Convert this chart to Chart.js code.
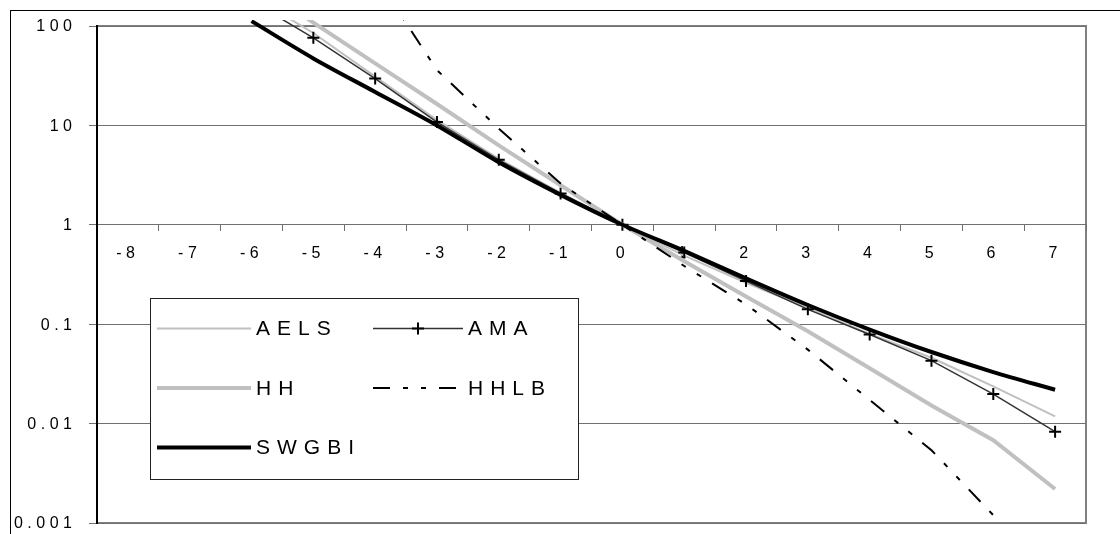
<!DOCTYPE html>
<html>
<head>
<meta charset="utf-8">
<script src="https://cdn.jsdelivr.net/npm/chart.js@4.4.1/dist/chart.umd.min.js"></script>
<style>
  html, body { margin: 0; padding: 0; background: #fff; }
  #wrap { width: 1120px; height: 534px; }
</style>
</head>
<body>
<div id="wrap"><canvas id="myChart" width="1120" height="534"></canvas></div>
<script>
// x categories
const categories = ['-8', '-7', '-6', '-5', '-4', '-3', '-2', '-1', '0', '1', '2', '3', '4', '5', '6', '7'];

// series values, one per category (null = no point)
const aels  = [null, null, 200, 85, 31, 11.3, 4.6, 2.1, 1, 0.49, 0.26, 0.145, 0.08, 0.046, 0.0237, 0.0118];
const ama   = [null, null, 178, 76, 29.6, 10.8, 4.5, 2.07, 1, 0.525, 0.272, 0.141, 0.0787, 0.043, 0.0198, 0.0083];
const hh    = [null, null, 290, 108, 42, 16.4, 6.3, 2.5, 1, 0.43, 0.19, 0.085, 0.036, 0.0152, 0.0068, 0.0022];
const hhlb  = [null, null, null, null, 320, 36, 9.3, 2.6, 1, 0.385, 0.158, 0.0555, 0.0173, 0.0054, 0.0012, null];
const swgbi = [null, null, 112, 47.2, 21.7, 10, 4.26, 2.0, 1, 0.546, 0.289, 0.156, 0.0883, 0.0525, 0.033, 0.0219];

// y axis ticks
const yTickValues = [0.001, 0.01, 0.1, 1, 10, 100];
const yTickLabels = ['0.001', '0.01', '0.1', '1', '10', '100'];

const FONT = '"Liberation Sans", Arial, sans-serif';
const TICK_SPACING = 4.5;
const dashDotDot = [17, 13, 5, 13, 5, 13];

// outer frame, plot outline and letter spacing for the axis text
const framePlugin = {
    id: 'frame',
    beforeLayout(chart) {
        chart.ctx.letterSpacing = TICK_SPACING + 'px';
    },
    beforeDraw(chart) {
        const ctx = chart.ctx;
        const a = chart.chartArea;
        ctx.save();
        ctx.fillStyle = '#fff';
        ctx.fillRect(0, 0, chart.width, chart.height);
        ctx.strokeStyle = '#000';
        ctx.lineWidth = 1;
        ctx.strokeRect(10.5, 10.5, chart.width + 20, chart.height + 20);
        ctx.strokeStyle = '#808080';
        ctx.lineWidth = 2;
        ctx.strokeRect(a.left, a.top, a.right - a.left, a.bottom - a.top);
        ctx.restore();
        ctx.letterSpacing = TICK_SPACING + 'px';
    }
};

// y tick labels, right aligned by hand (spaced text does not right-align well)
const yLabelPlugin = {
    id: 'yLabels',
    afterDraw(chart) {
        const ctx = chart.ctx;
        const scale = chart.scales.y;
        ctx.save();
        ctx.font = '16px ' + FONT;
        ctx.fillStyle = '#000';
        ctx.textBaseline = 'middle';
        ctx.textAlign = 'left';
        scale.ticks.forEach((t) => {
            const i = yTickValues.indexOf(t.value);
            if (i < 0) return;
            const label = yTickLabels[i];
            ctx.letterSpacing = '0px';
            const w = ctx.measureText(label).width + TICK_SPACING * (label.length - 1);
            ctx.letterSpacing = TICK_SPACING + 'px';
            ctx.fillText(label, 72 - w, scale.getPixelForValue(t.value) + 1);
        });
        ctx.restore();
    }
};

// boxed legend, two columns, inside the plot
const legendPlugin = {
    id: 'boxLegend',
    afterDatasetsDraw(chart) {
        const ctx = chart.ctx;
        ctx.save();
        ctx.fillStyle = '#fff';
        ctx.fillRect(150, 298, 429, 182);
        ctx.strokeStyle = '#222';
        ctx.lineWidth = 1;
        ctx.strokeRect(150.5, 298.5, 428, 181);
        ctx.font = '21px ' + FONT;
        ctx.letterSpacing = '7px';
        ctx.textBaseline = 'middle';
        chart.data.datasets.forEach((ds, i) => {
            const col = i % 2;
            const row = Math.floor(i / 2);
            const x0 = col ? 373 : 157;
            const x1 = col ? 463 : 251;
            const y = 328.5 + row * 59.5;
            ctx.save();
            ctx.strokeStyle = ds.borderColor;
            ctx.lineWidth = ds.borderWidth;
            ctx.setLineDash(ds.borderDash || []);
            ctx.beginPath();
            ctx.moveTo(x0, y);
            ctx.lineTo(x1, y);
            ctx.stroke();
            ctx.restore();
            if (ds.pointStyle === 'cross') {
                const cx = (x0 + x1) / 2;
                const r = ds.pointRadius;
                ctx.save();
                ctx.strokeStyle = ds.pointBorderColor;
                ctx.lineWidth = ds.pointBorderWidth;
                ctx.beginPath();
                ctx.moveTo(cx - r, y); ctx.lineTo(cx + r, y);
                ctx.moveTo(cx, y - r); ctx.lineTo(cx, y + r);
                ctx.stroke();
                ctx.restore();
            }
            ctx.fillStyle = '#000';
            ctx.fillText(ds.label, x1 + 5, y + 1);
        });
        ctx.restore();
    }
};

const clipTop = { left: 0, top: 6, right: 2, bottom: 0 };

const ctx = document.getElementById('myChart').getContext('2d');
const myChart = new Chart(ctx, {
    type: 'line',
    data: {
        labels: categories,
        datasets: [
            { label: 'AELS', data: aels, borderColor: '#c0c0c0', borderWidth: 2, pointRadius: 0, order: 5, clip: clipTop },
            { label: 'AMA', data: ama, borderColor: '#333333', borderWidth: 1.5, pointStyle: 'cross', pointRadius: 6,
              pointBorderColor: '#000', pointBorderWidth: 2, order: 4, clip: clipTop },
            { label: 'HH', data: hh, borderColor: '#c0c0c0', borderWidth: 4, pointRadius: 0, order: 3, clip: clipTop },
            { label: 'HHLB', data: hhlb, borderColor: '#000', borderWidth: 2, borderDash: dashDotDot, pointRadius: 0, order: 2, clip: clipTop },
            { label: 'SWGBI', data: swgbi, borderColor: '#000', borderWidth: 4, pointRadius: 0, tension: 0.3, order: 1, clip: clipTop }
        ]
    },
    options: {
        responsive: false,
        animation: false,
        devicePixelRatio: 1,
        layout: { padding: { left: 10, top: 26, right: 34, bottom: 11 } },
        plugins: {
            legend: { display: false },
            tooltip: { enabled: false }
        },
        scales: {
            x: {
                type: 'category',
                offset: true,
                position: { y: 1 },
                grid: { offset: true, drawOnChartArea: false, tickLength: 6, color: '#707070' },
                border: { color: '#707070', width: 1 },
                ticks: { autoSkip: false, maxRotation: 0, padding: 13, color: '#000', font: { size: 16, family: FONT } }
            },
            y: {
                type: 'logarithmic',
                min: 0.001,
                max: 100,
                afterBuildTicks(scale) {
                    scale.ticks = yTickValues.map(v => ({ value: v }));
                },
                afterFit(scale) {
                    scale.width = 87;
                },
                ticks: { display: false, autoSkip: false },
                grid: { color: '#707070', lineWidth: 1, tickLength: 8 },
                border: { color: '#000', width: 2 }
            }
        }
    },
    plugins: [framePlugin, yLabelPlugin, legendPlugin]
});
</script>
</body>
</html>
